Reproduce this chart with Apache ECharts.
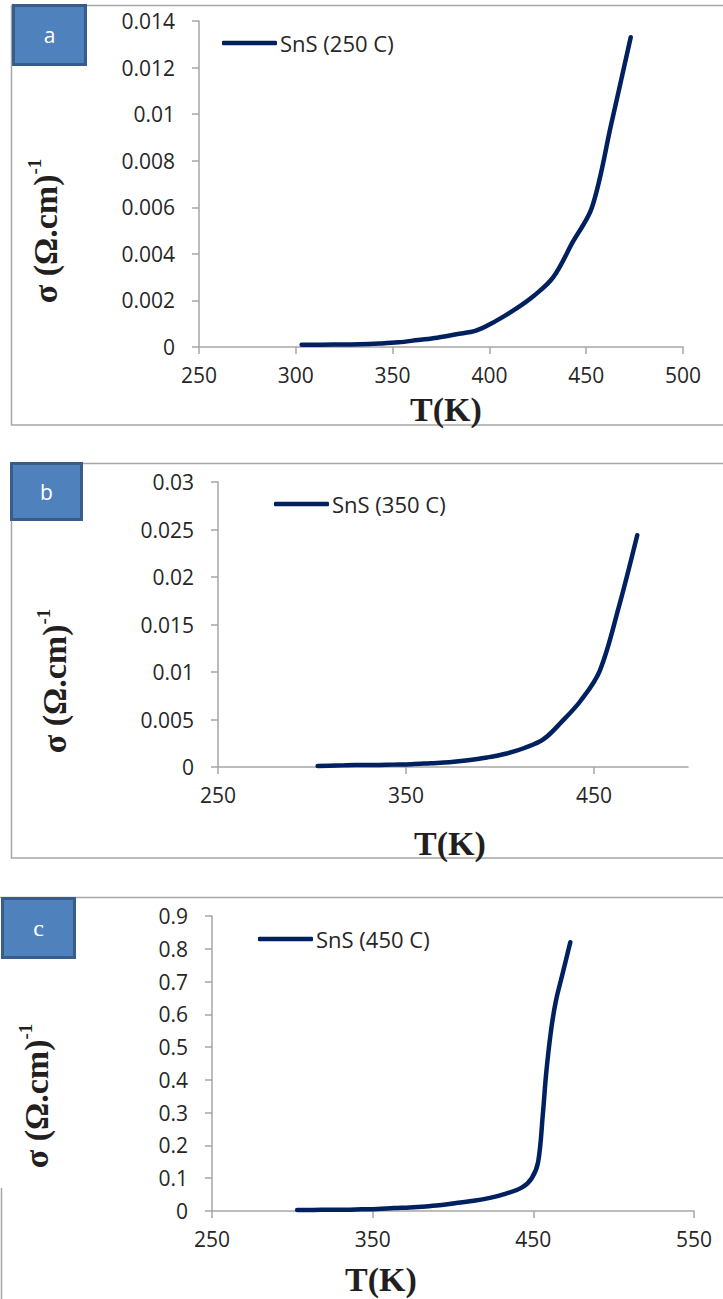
<!DOCTYPE html>
<html>
<head>
<meta charset="utf-8">
<script src="https://cdn.jsdelivr.net/npm/echarts@6/dist/echarts.min.js"></script>
<style>
html,body{margin:0;padding:0;background:#fff;}
#chart{width:723px;height:1299px;}
</style>
</head>
<body>
<div id="chart"></div>
<script>
// ---- Data ----
const tempA = [303, 313, 323, 333, 343, 353, 363, 373, 383, 393, 403, 413, 423, 433, 443, 453, 463, 473];
const sigmaA = [0.0001, 0.0001, 0.00011, 0.00012, 0.00015, 0.0002, 0.0003, 0.0004, 0.00055, 0.0007, 0.0011, 0.0016, 0.0022, 0.003, 0.0045, 0.006, 0.0096, 0.0133];

const tempB = [303, 313, 323, 333, 343, 353, 363, 373, 383, 393, 403, 413, 423, 433, 443, 453, 463, 473];
const sigmaB = [0.0001, 0.00015, 0.0002, 0.0002, 0.00025, 0.0003, 0.0004, 0.0005, 0.0007, 0.001, 0.0014, 0.002, 0.0029, 0.0048, 0.007, 0.0101, 0.0167, 0.0244];

const tempC = [303, 313, 323, 333, 343, 353, 363, 373, 383, 393, 403, 413, 423, 433, 443, 449, 453, 456, 458, 461, 464, 468, 473];
const sigmaC = [0.003, 0.003, 0.004, 0.004, 0.005, 0.006, 0.009, 0.011, 0.014, 0.018, 0.025, 0.031, 0.04, 0.053, 0.072, 0.1, 0.15, 0.3, 0.42, 0.55, 0.64, 0.72, 0.82];

const seriesNames = ['SnS (250 C)', 'SnS (350 C)', 'SnS (450 C)'];
const panelLetters = ['a', 'b', 'c'];
const xTicksA = [250, 300, 350, 400, 450, 500];
const xTicksB = [250, 350, 450];
const xTicksC = [250, 350, 450, 550];
const yTitle = '{m|σ (Ω.cm)}{s|-1}';
const xTitle = 'T(K)';

// ---- Styling ----
const lineColor = '#002060';
const axisGray = '#a6a6a6';
const labelColor = '#262626';
const sansFont = 'Open Sans';
const serifFont = 'Liberation Serif';

function zip(xs, ys) { return xs.map((x, i) => [x, ys[i]]); }

function xAxis(grid, min, max, interval, ticks, gap, padding) {
  return {
    type: 'value', gridIndex: grid, min: min, max: max, interval: interval,
    splitLine: {show: false},
    axisLine: {show: true, onZero: false, lineStyle: {color: axisGray, width: 1.5}},
    axisTick: {show: true, length: 7, inside: false, customValues: ticks, lineStyle: {color: axisGray, width: 1.5}},
    axisLabel: {show: true, margin: 17, customValues: ticks, color: labelColor, fontFamily: sansFont, fontSize: 21},
    name: xTitle, nameLocation: 'middle', nameGap: gap,
    nameTextStyle: {fontFamily: serifFont, fontWeight: 'bold', fontSize: 34, color: '#231f20', padding: padding}
  };
}
function yAxis(grid, min, max, interval, gap, padding) {
  return {
    type: 'value', gridIndex: grid, min: min, max: max, interval: interval,
    splitLine: {show: false},
    axisLine: {show: true, lineStyle: {color: axisGray, width: 1.5}},
    axisTick: {show: true, length: 7, inside: false, lineStyle: {color: axisGray, width: 1.5}},
    axisLabel: {show: true, margin: 24, color: labelColor, fontFamily: sansFont, fontSize: 21},
    name: yTitle, nameLocation: 'middle', nameRotate: 90, nameGap: gap,
    nameTextStyle: {
      fontFamily: serifFont, fontWeight: 'bold', fontSize: 34, color: '#231f20', padding: padding,
      rich: {
        m: {fontFamily: serifFont, fontWeight: 'bold', fontSize: 34, lineHeight: 40, color: '#231f20'},
        s: {fontFamily: serifFont, fontWeight: 'bold', fontSize: 19, verticalAlign: 'top', color: '#231f20'}
      }
    }
  };
}
function series(name, idx, data) {
  return {
    name: name, type: 'line', xAxisIndex: idx, yAxisIndex: idx, data: data,
    smooth: 0.35, showSymbol: false, symbol: 'none', clip: false,
    lineStyle: {color: lineColor, width: 4.5, cap: 'round', join: 'round'},
    itemStyle: {color: lineColor}
  };
}
function legend(name, left, top) {
  return {
    data: [name], left: left, top: top, padding: 0, orient: 'horizontal',
    icon: 'roundRect', itemWidth: 55, itemHeight: 4.5, itemGap: 0,
    textStyle: {color: labelColor, fontFamily: sansFont, fontSize: 22, padding: [0, 0, 0, -2]},
    selectedMode: false
  };
}
function letterBox(x, y, w, h, letter, font) {
  return {
    type: 'group', children: [
      {type: 'rect', shape: {x: x, y: y, width: w, height: h}, style: {fill: '#4f81bd', stroke: '#385d8a', lineWidth: 3}},
      {type: 'text', style: {x: x + w / 2, y: y + h / 2, text: letter, fill: '#ffffff', font: font, align: 'center', verticalAlign: 'middle'}}
    ]
  };
}

const chart = echarts.init(document.getElementById('chart'), null, {renderer: 'svg'});
chart.setOption({
  backgroundColor: '#ffffff',
  animation: false,
  grid: [
    {left: 199, top: 21, width: 484, height: 326},
    {left: 218, top: 482, width: 470, height: 285},
    {left: 212, top: 916, width: 482, height: 295}
  ],
  xAxis: [
    xAxis(0, 250, 500, 50, xTicksA, 45, [0, 0, 0, 10]),
    xAxis(1, 250, 500, 100, xTicksB, 59, [0, 6, 0, 0]),
    xAxis(2, 250, 550, 100, xTicksC, 51, [0, 144, 0, 0])
  ],
  yAxis: [
    yAxis(0, 0, 0.014, 0.002, 134, [0, 94, 0, 0]),
    yAxis(1, 0, 0.03, 0.005, 144, [0, 113, 0, 0]),
    yAxis(2, 0, 0.9, 0.1, 156, [0, 65, 0, 0])
  ],
  legend: [
    legend(seriesNames[0], 222, 32),
    legend(seriesNames[1], 274, 493),
    legend(seriesNames[2], 258, 928)
  ],
  series: [
    series(seriesNames[0], 0, zip(tempA, sigmaA)),
    series(seriesNames[1], 1, zip(tempB, sigmaB)),
    series(seriesNames[2], 2, zip(tempC, sigmaC))
  ],
  graphic: [
    {type: 'rect', shape: {x: 11.5, y: 5.5, width: 730, height: 419.5}, style: {fill: 'none', stroke: axisGray, lineWidth: 1.5}, z: -1},
    {type: 'rect', shape: {x: 11.5, y: 463.5, width: 730, height: 394.5}, style: {fill: 'none', stroke: axisGray, lineWidth: 1.5}, z: -1},
    {type: 'line', shape: {x1: 0, y1: 897.5, x2: 723, y2: 897.5}, style: {stroke: axisGray, lineWidth: 1.5}, z: -1},
    {type: 'line', shape: {x1: 1.5, y1: 1188, x2: 1.5, y2: 1299}, style: {stroke: axisGray, lineWidth: 1.5}, z: -1},
    letterBox(13.5, 5.5, 72, 59, panelLetters[0], '21px "Open Sans"'),
    letterBox(11.5, 463.5, 70, 56, panelLetters[1], '21px "Open Sans"'),
    letterBox(2.5, 898.5, 72, 59, panelLetters[2], '24px "Liberation Serif"')
  ]
});
</script>
</body>
</html>
